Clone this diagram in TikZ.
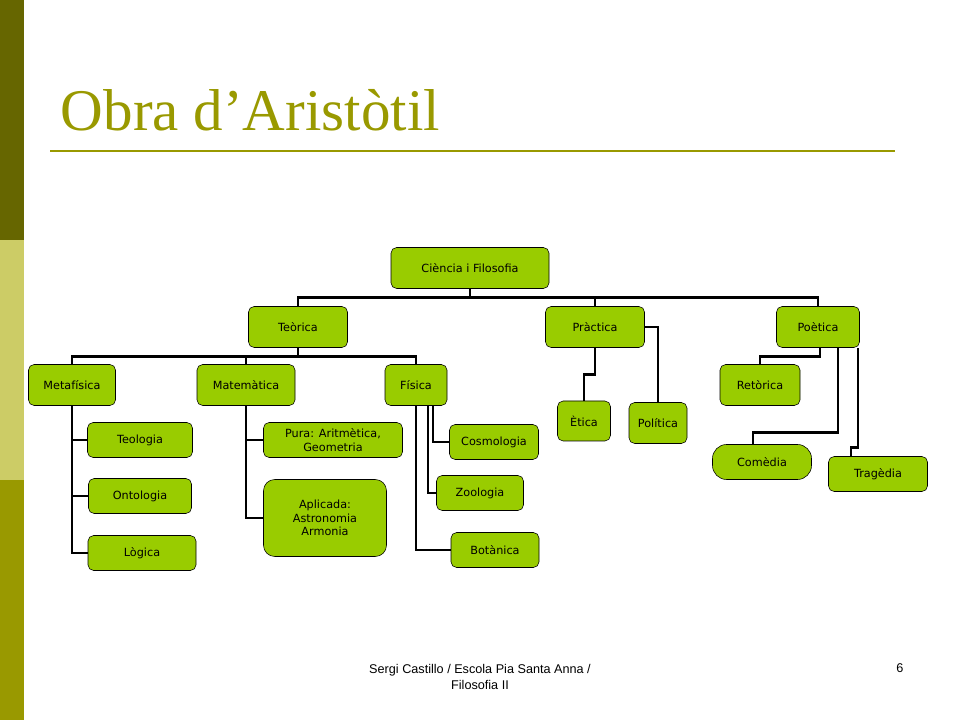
\documentclass[tikz,border=0pt]{standalone}
\usepackage{fontspec}
\setmainfont{DejaVu Sans}
\newfontfamily\titlefont{Liberation Serif}
\newfontfamily\footfont{Liberation Sans}
\definecolor{olive}{HTML}{999900}
\definecolor{darkolive}{HTML}{666600}
\definecolor{lightolive}{HTML}{CCCC66}
\definecolor{leaf}{HTML}{99CC00}
\tikzset{
  box/.style 2 args={draw, fill=leaf, rounded corners=4pt, align=center,
    font=\fontsize{8}{9.5}\selectfont, inner sep=1pt,
    minimum width=#1*0.025cm, minimum height=#2*0.025cm},
  link/.style={line width=2pt}
}
\begin{document}
\begin{tikzpicture}[x=0.025cm, y=-0.025cm]
    \useasboundingbox (0,0) rectangle (960,720);
    \fill[darkolive] (0,0) rectangle (24,240);
    \fill[lightolive] (0,240) rectangle (24,480);
    \fill[olive] (0,480) rectangle (24,720);

    \node[anchor=west, text=olive, font=\titlefont\fontsize{42}{42}\selectfont] (title) at (56,110) {Obra d’Aristòtil};
    \draw[olive, line width=1.2pt] (50,151) -- (895,151);

    \node[box={158}{41}] (root) at (470,268) {Ciència i Filosofia};

    \node[box={99}{41}] (teo) at (298,327) {Teòrica};
    \node[box={99}{41}] (pra) at (595,327) {Pràctica};
    \node[box={83}{41}] (poe) at (818,327) {Poètica};

    \node[box={87}{41}] (meta) at (72,385) {Metafísica};
    \node[box={98}{41}] (mate) at (246,385) {Matemàtica};
    \node[box={62}{41}] (fis) at (416,385) {Física};

    \node[box={105}{35}] (teol) at (140,440) {Teologia};
    \node[box={103}{35}] (onto) at (140,496) {Ontologia};
    \node[box={108}{35}] (logi) at (142,553) {Lògica};

    \node[box={139}{35}] (pura) at (333,440) {Pura: Aritmètica,\\Geometria};
    \node[box={123}{77}, rounded corners=8pt] (apli) at (325,518) {Aplicada:\\Astronomia\\Armonia};

    \node[box={89}{35}] (cosm) at (494,442) {Cosmologia};
    \node[box={87}{35}] (zool) at (480,493) {Zoologia};
    \node[box={88}{35}] (bota) at (495,550) {Botànica};

    \node[box={53}{40}] (etic) at (584,421) {Ètica};
    \node[box={58}{41}] (poli) at (658,423) {Política};

    \node[box={80}{41}] (reto) at (760,385) {Retòrica};
    \node[box={99}{35}, rounded corners=10pt] (come) at (762,462) {Comèdia};
    \node[box={99}{35}] (trag) at (878,474) {Tragèdia};

    % arbre
    \draw[link] (root.south) -- ++(0,9) -| (teo.north);
    \draw[link] (root.south) -- ++(0,9) -| (pra.north);
    \draw[link] (root.south) -- ++(0,9) -| (poe.north);

    \draw[link] (teo.south) -- ++(0,9) -| (meta.north);
    \draw[link] (teo.south) -- ++(0,9) -| (mate.north);
    \draw[link] (teo.south) -- ++(0,9) -| (fis.north);

    \draw[link] (meta.south) |- (logi.west);
    \draw[link] (meta.south |- teol.west) -- (teol.west);
    \draw[link] (meta.south |- onto.west) -- (onto.west);

    \draw[link] (mate.south) |- (apli.west);
    \draw[link] (mate.south |- pura.west) -- (pura.west);

    \draw[link] (fis.south) |- (bota.west);
    \draw[link] ([xshift=12*0.025cm]fis.south) |- (zool.west);
    \draw[link] ([xshift=17*0.025cm]fis.south) |- (cosm.west);

    \draw[link] (pra.south) -- ++(0,27) -| (etic.north);
    \draw[link] (pra.east) -| (poli.north);

    \draw[link] ([xshift=2*0.025cm]poe.south) -- ++(0,9) -| (reto.north);
    \draw[link] ([xshift=20*0.025cm]poe.south) -- ++(0,85) -| ([xshift=-9*0.025cm]come.north);
    \draw[link] ([xshift=40*0.025cm]poe.south) -- ++(0,100) -| ([xshift=-27*0.025cm]trag.north);

    \node[font=\footfont\fontsize{9}{11}\selectfont, align=center] (foot) at (480,677) {Sergi Castillo / Escola Pia Santa Anna /\\Filosofia II};
    \node[font=\footfont\fontsize{9}{11}\selectfont] (page) at (900,668) {6};
\end{tikzpicture}
\end{document}
